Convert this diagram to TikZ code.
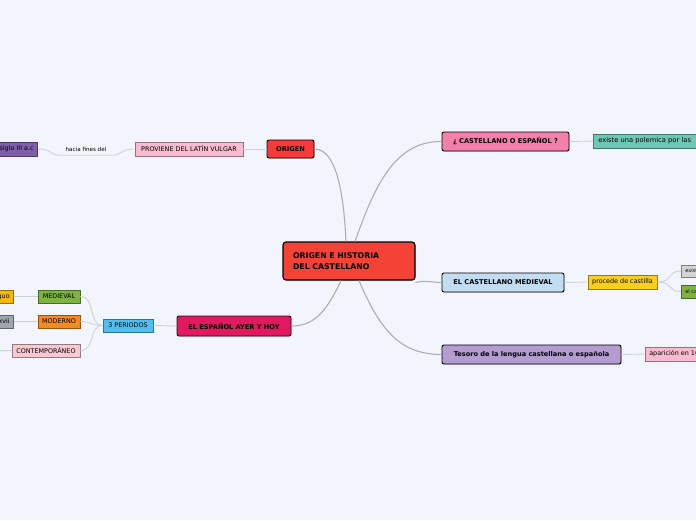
\documentclass[tikz,border=0pt]{standalone}
\usepackage{fontspec}
\setmainfont{DejaVu Sans}
\usetikzlibrary{shadows}
\definecolor{bgc}{HTML}{F3F5FD}
\definecolor{lineA}{HTML}{A9AEB8}
\definecolor{lineB}{HTML}{CDD2DA}
\definecolor{cCentral}{HTML}{F44336}
\definecolor{cOrigen}{HTML}{F93A3A}
\definecolor{cPink}{HTML}{F8BBD0}
\definecolor{cPurple}{HTML}{7E5FA8}
\definecolor{cCast}{HTML}{F47FAA}
\definecolor{cTeal}{HTML}{6EC6B4}
\definecolor{cBlue}{HTML}{C2DDF1}
\definecolor{cYellow}{HTML}{F8CF1E}
\definecolor{cGray}{HTML}{D4D4D4}
\definecolor{cGreen}{HTML}{7CB342}
\definecolor{cLav}{HTML}{B39DD0}
\definecolor{cCrimson}{HTML}{E2195E}
\definecolor{cSky}{HTML}{4FBFEF}
\definecolor{cOrange}{HTML}{F58B1F}
\definecolor{cLightPink}{HTML}{FAC8D3}
\definecolor{cGold}{HTML}{F8B80A}
\definecolor{cSlate}{HTML}{9CA6AE}
\begin{document}
\begin{tikzpicture}[x=1pt,y=-1pt,
  mainnode/.style={draw=black, line width=0.9pt, rounded corners=2pt, inner sep=0pt,
    font=\fontsize{6.6}{8}\selectfont\bfseries,
    drop shadow={shadow xshift=0.8pt, shadow yshift=-0.8pt, opacity=0.25}},
  subnode/.style={fill=#1, draw=#1!60!black, line width=0.6pt, inner sep=0pt, inner xsep=4pt,
    minimum height=14pt, font=\fontsize{6.4}{8}\selectfont},
  conn/.style={draw=lineA, line width=1.1pt},
  subconn/.style={draw=lineB, line width=0.9pt}]
\fill[bgc] (0,0) rectangle (696,520);
\clip (0,0) rectangle (696,520);

% central
\node[mainnode, fill=cCentral, line width=1.1pt, rounded corners=3pt, minimum width=132pt, minimum height=38pt,
  text width=112pt, align=left, font=\fontsize{7.8}{11.5}\selectfont\bfseries] (c) at (349,261)
  {ORIGEN E HISTORIA\\DEL CASTELLANO};

% main branches
\node[mainnode, fill=cOrigen, minimum width=47pt, minimum height=18pt] (origen) at (290.5,149) {ORIGEN};
\node[mainnode, fill=cCast, minimum width=127pt, minimum height=19pt] (cast) at (505.5,141.5) {¿ CASTELLANO O ESPAÑOL ?};
\node[mainnode, fill=cBlue, minimum width=122pt, minimum height=19pt] (med) at (503,282.5) {EL CASTELLANO MEDIEVAL};
\node[mainnode, fill=cLav, minimum width=179pt, minimum height=19pt] (tes) at (531.5,354.5) {Tesoro de la lengua castellana o española};
\node[mainnode, fill=cCrimson, draw=black!80!cCrimson, minimum width=114pt, minimum height=20pt] (esp) at (234,326) {EL ESPAÑOL AYER Y HOY};

% sub nodes
\node[subnode=cPink, minimum width=108pt, inner xsep=0pt] (prov) at (189,149) {PROVIENE DEL LATÍN VULGAR};
\node[font=\fontsize{5.6}{6}\selectfont, inner xsep=6pt, inner ysep=2pt, minimum height=12pt] (hacia) at (86,149) {hacia fines del};
\node[subnode=cPurple, anchor=east] (siglo) at (38,149) {siglo III a.c};

\node[subnode=cTeal, anchor=west, inner xsep=5pt, text width=110pt, align=left,
  font=\fontsize{6.7}{8}\selectfont] (exist) at (593,141) {existe una polemica por las};

\node[subnode=cYellow, minimum width=69pt, inner xsep=0pt] (proc) at (622.5,282) {procede de castilla};
\node[subnode=cGray, anchor=west, minimum height=12pt, font=\fontsize{5}{6}\selectfont] (exis) at (681,271) {existe};
\node[subnode=cGreen, anchor=west, minimum height=13pt, font=\fontsize{5}{6}\selectfont] (elc) at (681,291.5) {el castellano};

\node[subnode=cPink, anchor=west] (apar) at (645,354) {aparición en 1611};

\node[subnode=cSky, minimum width=50pt, minimum height=13pt, inner xsep=0pt] (per) at (128,325.5) {3 PERIODOS};
\node[subnode=cGreen, minimum width=42pt, minimum height=13pt, inner xsep=0pt] (medv) at (59,296.5) {MEDIEVAL};
\node[subnode=cOrange, minimum width=42pt, minimum height=13pt, inner xsep=0pt] (mod) at (59,321.5) {MODERNO};
\node[subnode=cLightPink, minimum width=68pt, minimum height=13pt, inner xsep=0pt] (cont) at (46,350.5) {CONTEMPORÁNEO};
\node[subnode=cGold, anchor=east, minimum height=13pt] (ant) at (14,296.5) {antiguo};
\node[subnode=cSlate, anchor=east, minimum height=13pt] (xvii) at (14,321.5) {siglo xvii};
\coordinate (contend) at (-20,351);

% main connectors
\path[conn] (origen.east) .. controls (338,149) and (344,200) .. ([xshift=-3pt]c.north);
\path[conn] ([xshift=6pt]c.north) .. controls (375,185) and (395,141) .. (cast.west);
\path[conn] ([yshift=-2pt]c.south east) .. controls (425,280) and (432,282.5) .. (med.west);
\path[conn] ([xshift=10pt]c.south) .. controls (380,330) and (400,354.5) .. (tes.west);
\path[conn] ([xshift=-8pt]c.south) .. controls (325,315) and (312,326) .. (esp.east);

% sub connectors
\path[subconn] (prov.east) -- (origen.west);
\path[subconn] (prov.west) .. controls (120,149) and (122,155) .. (hacia.south east) -- (hacia.south west)
  .. controls (50,155) and (52,149) .. (siglo.east);
\path[subconn] (cast.east) -- (exist.west);
\path[subconn] (med.east) -- (proc.west);
\path[subconn] (proc.east) .. controls (673,282) and (667,271) .. (exis.west);
\path[subconn] (proc.east) .. controls (673,282) and (667,291.5) .. (elc.west);
\path[subconn] (tes.east) -- (apar.west);
\path[subconn] (esp.west) -- (per.east);
\path[subconn] (per.west) .. controls (88,325.5) and (96,296.5) .. (medv.east);
\path[subconn] (per.west) .. controls (92,325.5) and (90,321.5) .. (mod.east);
\path[subconn] (per.west) .. controls (88,325.5) and (96,350.5) .. (cont.east);
\path[subconn] (medv.west) -- (ant.east);
\path[subconn] (mod.west) -- (xvii.east);
\path[subconn] (cont.west) -- (contend);
\end{tikzpicture}
\end{document}
